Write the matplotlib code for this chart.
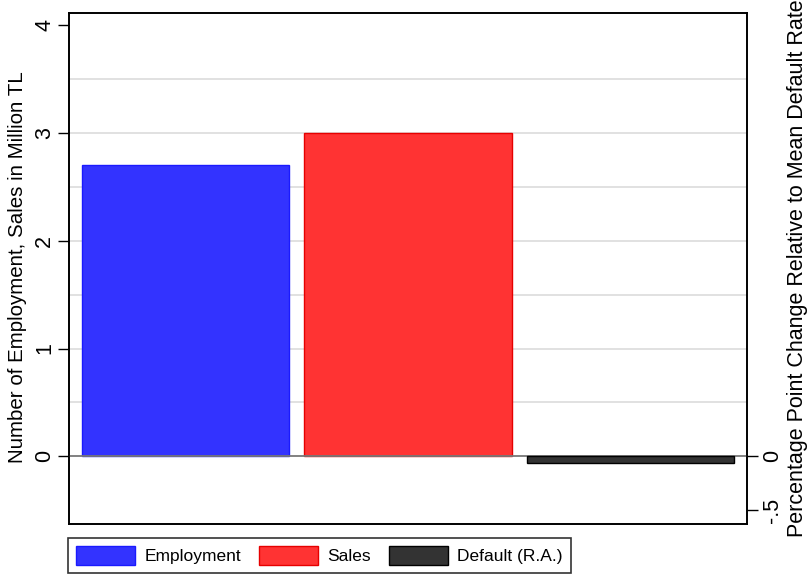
import matplotlib
matplotlib.use("Agg")
import matplotlib.pyplot as plt
from matplotlib.patches import Patch

plt.rcParams['font.family'] = ['Liberation Sans', 'DejaVu Sans']

categories = ['Employment', 'Sales', 'Default (R.A.)']
left_values = [2.7, 3.0]          # Employment, Sales (left axis)
right_values = [-0.06]            # Default (right axis)
left_ticks = [0, 1, 2, 3, 4]
left_ticklabels = ['0', '1', '2', '3', '4']
right_ticks = [-0.5, 0]
right_ticklabels = ['-.5', '0']
fills = ['#3333FF', '#FF3333', '#333333']
edges = ['#1a1aff', '#e60000', '#000000']

W, H = 809, 577
fig = plt.figure(figsize=(W / 100, H / 100), dpi=100)
l, r, t, b = 69, 747, 12.7, 524
ax = fig.add_axes([l / W, 1 - b / H, (r - l) / W, (b - t) / H])
ax2 = ax.twinx()

ylim = (-0.628, 4.115)
ax.set_ylim(*ylim)
ax2.set_ylim(*ylim)
ax.set_xlim(-0.525, 2.525)

# gridlines
for g in [0.5, 1.0, 1.5, 2.0, 2.5, 3.0, 3.5]:
    ax.axhline(g, color='#dcdcdc', lw=1.2, zorder=0)
ax.axhline(0, color='#777777', lw=1.3, zorder=3)

bw = 0.932
ax.bar([0, 1], left_values, width=bw, color=fills[:2], edgecolor=edges[:2], lw=1, zorder=2)
ax2.bar([2], right_values, width=bw, color=fills[2], edgecolor=edges[2], lw=1, zorder=2)

ax.set_yticks(left_ticks)
ax.set_yticklabels(left_ticklabels, rotation=90, va='center', fontsize=15.5)
ax2.set_yticks(right_ticks)
ax2.set_yticklabels(right_ticklabels, rotation=90, va='center', fontsize=15.5)
ax.set_xticks([])
ax.tick_params(axis='y', length=8, width=1, pad=2)
ax2.tick_params(axis='y', length=8, width=1, pad=3)
for a in (ax, ax2):
    for s in a.spines.values():
        s.set_linewidth(1.2)
        s.set_color('black')

fig.text(18 / W, 1 - 267 / H, 'Number of Employment, Sales in Million TL',
         rotation=90, ha='center', va='center', fontsize=14.8)
fig.text(797 / W, 1 - 268 / H, 'Percentage Point Change Relative to Mean Default Rate',
         rotation=90, ha='center', va='center', fontsize=15.5)

handles = [Patch(facecolor=fills[i], edgecolor=edges[i], label=categories[i]) for i in range(3)]
leg = fig.legend(handles=handles, ncol=3, loc='center',
                 bbox_to_anchor=(319.5 / W, 1 - 555.5 / H), fontsize=12.5,
                 frameon=True, fancybox=False, edgecolor='black',
                 handlelength=3.4, handleheight=1.25, handletextpad=0.55,
                 columnspacing=1.0, borderpad=0.5, borderaxespad=0)
leg.get_frame().set_linewidth(1.2)

fig.savefig('out.png', dpi=100)
